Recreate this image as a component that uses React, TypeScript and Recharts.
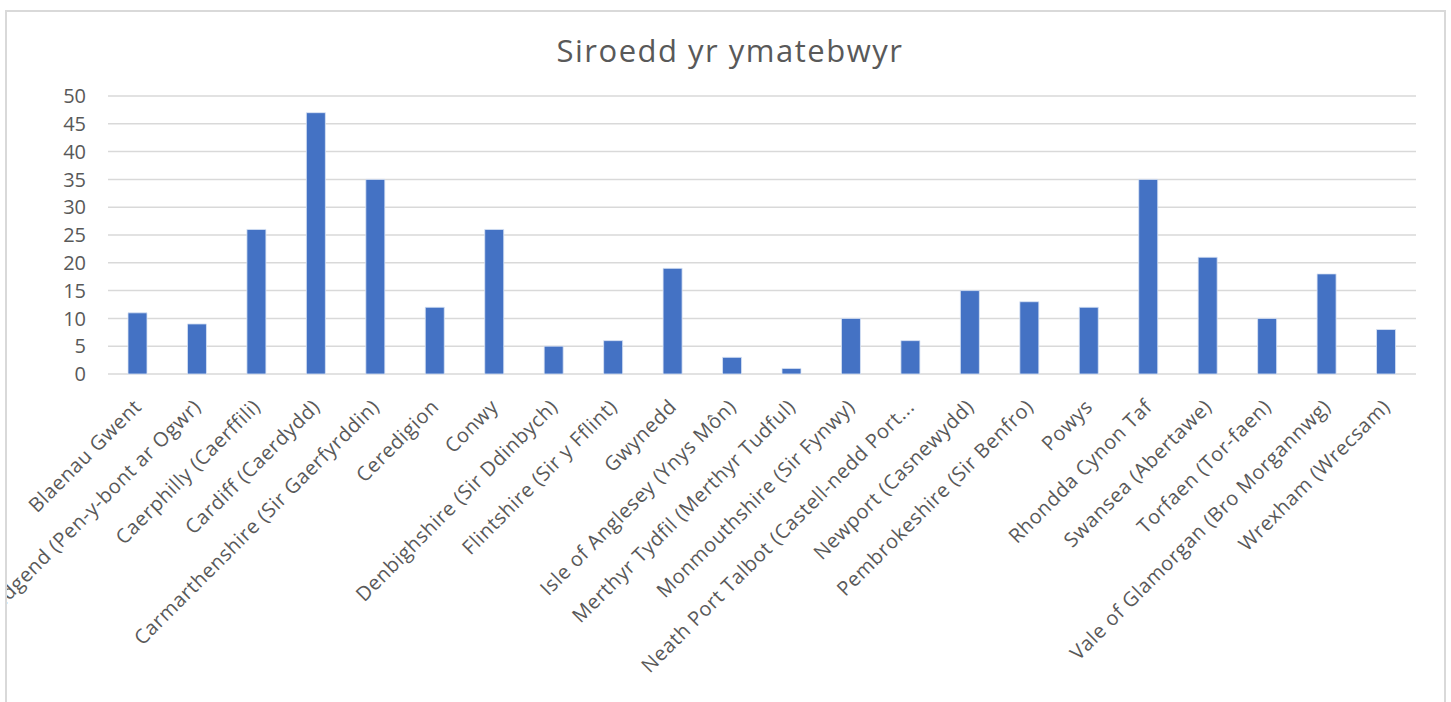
import React from 'react';
import { BarChart, Bar, XAxis, YAxis, CartesianGrid } from 'recharts';

const counties = [
  'Blaenau Gwent',
  'Bridgend (Pen-y-bont ar Ogwr)',
  'Caerphilly (Caerffili)',
  'Cardiff (Caerdydd)',
  'Carmarthenshire (Sir Gaerfyrddin)',
  'Ceredigion',
  'Conwy',
  'Denbighshire (Sir Ddinbych)',
  'Flintshire (Sir y Fflint)',
  'Gwynedd',
  'Isle of Anglesey (Ynys Môn)',
  'Merthyr Tydfil (Merthyr Tudful)',
  'Monmouthshire (Sir Fynwy)',
  'Neath Port Talbot (Castell-nedd Port Talbot)',
  'Newport (Casnewydd)',
  'Pembrokeshire (Sir Benfro)',
  'Powys',
  'Rhondda Cynon Taf',
  'Swansea (Abertawe)',
  'Torfaen (Tor-faen)',
  'Vale of Glamorgan (Bro Morgannwg)',
  'Wrexham (Wrecsam)',
];

const respondents = [11, 9, 26, 47, 35, 12, 26, 5, 6, 19, 3, 1, 10, 6, 15, 13, 12, 35, 21, 10, 18, 8];

const yTicks = [0, 5, 10, 15, 20, 25, 30, 35, 40, 45, 50];

const title = 'Siroedd yr ymatebwyr';

const data = counties.map((name, i) => ({ name, value: respondents[i] }));

const FONT = '"Open Sans", "Noto Sans", sans-serif';
const TEXT = '#595959';

// Excel cuts long category labels short
const shorten = (s: string) => (s.length > 36 ? s.slice(0, 36) + '...' : s);

const CountyTick = (props: any) => {
  const { x, y, payload } = props;
  const tx = x + 5;
  const ty = y + 34;
  return (
    <text
      x={tx}
      y={ty}
      transform={`rotate(-45, ${tx}, ${ty})`}
      textAnchor="end"
      fill={TEXT}
      fontSize={20}
      letterSpacing={0.6}
      fontFamily={FONT}
    >
      {shorten(payload.value)}
    </text>
  );
};

const App: React.FC = () => {
  return (
    <div style={{ position: 'absolute', left: 0, top: 0, width: 1451, height: 702, background: '#fff', overflow: 'hidden' }}>
      <div
        style={{
          position: 'absolute',
          left: 5,
          top: 10,
          width: 1441,
          height: 720,
          boxSizing: 'border-box',
          border: '2px solid #d9d9d9',
          overflow: 'hidden',
        }}
      >
        <div style={{ position: 'absolute', left: -7, top: -12 }}>
          <BarChart
            width={1451}
            height={702}
            data={data}
            margin={{ top: 96, right: 35, bottom: 0, left: 0 }}
          >
            <text x={730} y={62} textAnchor="middle" fill={TEXT} fontSize={31} letterSpacing={1.5} fontFamily={FONT}>
              {title}
            </text>
            <CartesianGrid vertical={false} stroke="#d9d9d9" strokeWidth={1.5} />
            <XAxis
              dataKey="name"
              interval={0}
              axisLine={false}
              tickLine={false}
              tickSize={0}
              tickMargin={0}
              height={328}
              tick={<CountyTick />}
            />
            <YAxis
              width={108}
              domain={[0, 50]}
              ticks={yTicks}
              interval={0}
              axisLine={false}
              tickLine={false}
              tickSize={0}
              tickMargin={22}
              tick={{ fill: TEXT, fontSize: 20, fontFamily: FONT }}
            />
            <Bar dataKey="value" fill="#4472C4" stroke="#dbe4f5" strokeWidth={0.8} barSize={19} isAnimationActive={false} />
          </BarChart>
        </div>
      </div>
    </div>
  );
};

export default App;
